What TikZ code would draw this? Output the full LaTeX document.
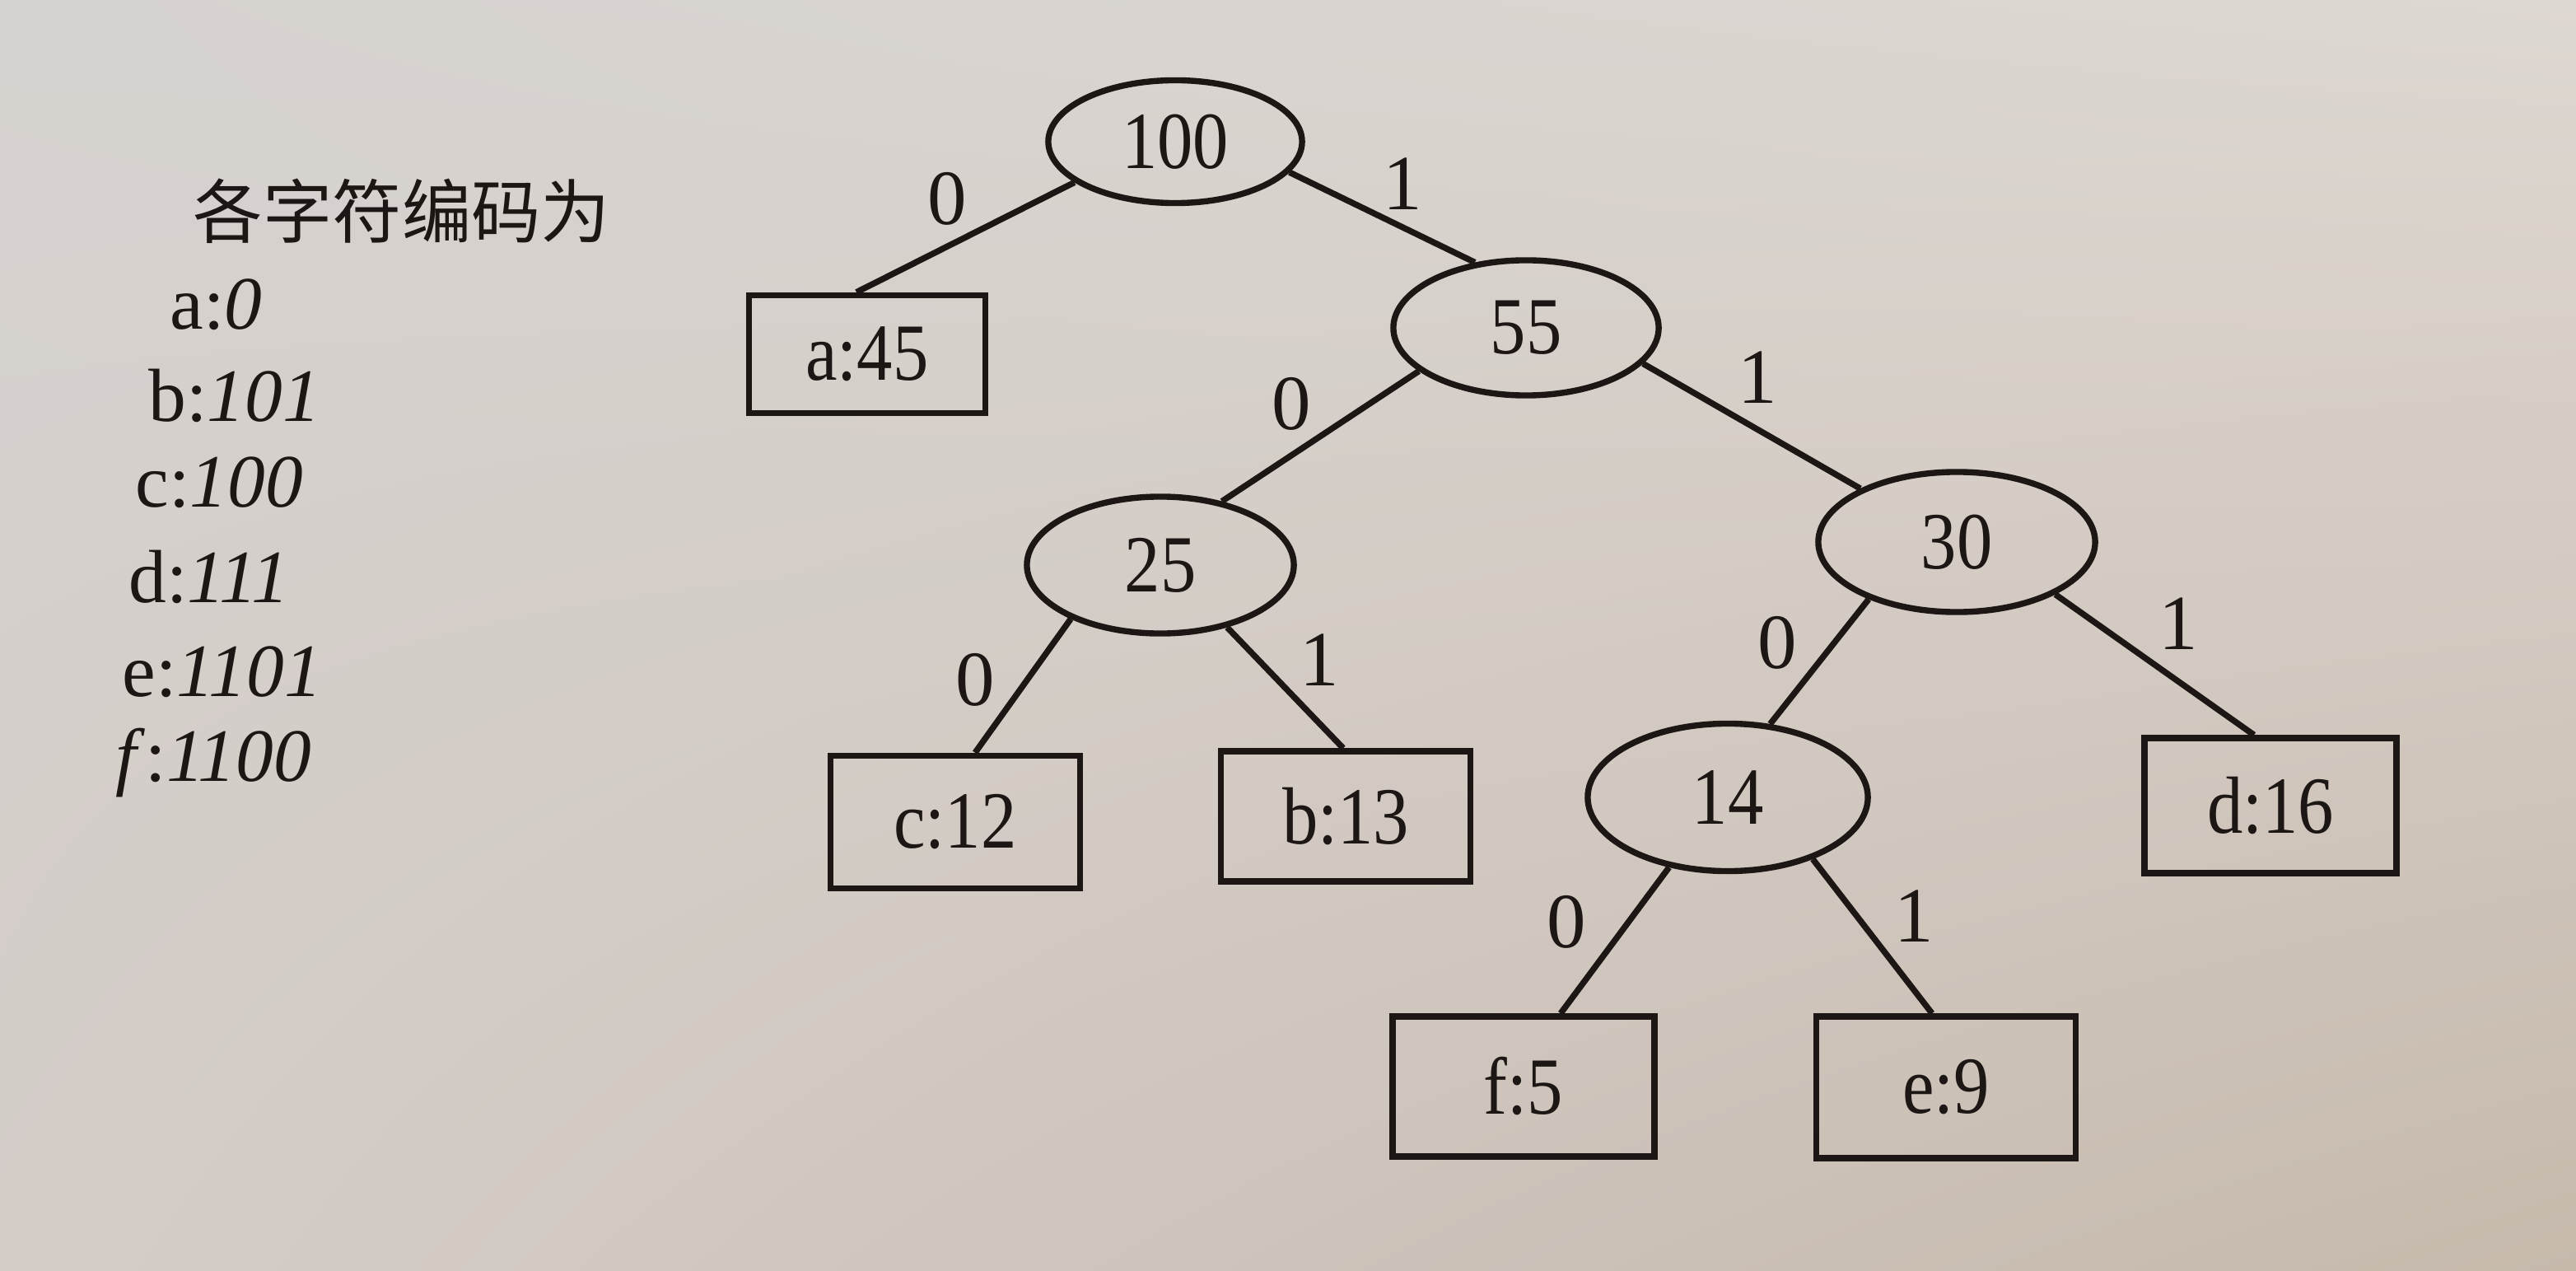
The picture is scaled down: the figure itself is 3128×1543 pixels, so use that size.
\documentclass[tikz,border=0pt]{standalone}
\usepackage{fontspec}
\setmainfont{Liberation Serif}
\newfontfamily\treefont[FakeStretch=0.88]{Liberation Serif}
\newfontfamily\cjk{Noto Sans CJK SC}
\usetikzlibrary{shapes.geometric,shadings}
\definecolor{ink}{RGB}{28,22,20}
\definecolor{pUL}{RGB}{214,210,207}
\definecolor{pUR}{RGB}{222,216,210}
\definecolor{pLL}{RGB}{212,205,200}
\definecolor{pLR}{RGB}{198,185,172}
\begin{document}
\begin{tikzpicture}[x=0.01cm,y=-0.01cm,
  inner/.style={ellipse,draw=ink,line width=2.1pt,inner sep=0pt,font=\treefont\fontsize{28}{30}\selectfont,text=ink},
  leaf/.style={rectangle,draw=ink,line width=2.1pt,inner sep=0pt,font=\treefont\fontsize{28}{30}\selectfont,text=ink},
  edge/.style={draw=ink,line width=2.1pt},
  bit/.style={font=\fontsize{27}{30}\selectfont,text=ink,inner sep=0pt},
  code/.style={font=\fontsize{26}{30}\selectfont,text=ink,anchor=west,inner sep=0pt}]
\shade[shading=bilinear interpolation,upper left=pUL,upper right=pUR,lower left=pLL,lower right=pLR] (0,0) rectangle (3128,1543);
\useasboundingbox (0,0) rectangle (3128,1543);
% internal nodes
\node[inner,minimum width=3.08cm,minimum height=1.49cm] (n100) at (1427,172) {100};
\node[inner,minimum width=3.22cm,minimum height=1.64cm] (n55) at (1853,398) {55};
\node[inner,minimum width=3.24cm,minimum height=1.66cm] (n25) at (1409,686) {25};
\node[inner,minimum width=3.36cm,minimum height=1.70cm] (n30) at (2376,658) {30};
\node[inner,minimum width=3.40cm,minimum height=1.79cm] (n14) at (2098,968) {14};
% leaves
\node[leaf,minimum width=2.87cm,minimum height=1.43cm] (a45) at (1053,430) {a:45};
\node[leaf,minimum width=3.03cm,minimum height=1.61cm] (c12) at (1160,998) {c:12};
\node[leaf,minimum width=3.03cm,minimum height=1.58cm] (b13) at (1634,991) {b:13};
\node[leaf,minimum width=3.06cm,minimum height=1.64cm] (d16) at (2757,978) {d:16};
\node[leaf,minimum width=3.18cm,minimum height=1.70cm] (f5) at (1850,1319) {f:5};
\node[leaf,minimum width=3.15cm,minimum height=1.72cm] (e9) at (2363,1320) {e:9};
% edges
\draw[edge] (n100.202) -- ([xshift=-0.13cm]a45.north);
\draw[edge] (n100.345) -- (n55.128);
\draw[edge] (n55.202) -- (n25.46);
\draw[edge] (n55.343) -- (n30.151);
\draw[edge] (n25.211) -- ([xshift=0.24cm]c12.north);
\draw[edge] (n25.317) -- ([xshift=-0.03cm]b13.north);
\draw[edge] (n30.213) -- (n14.60);
\draw[edge] (n30.332) -- ([xshift=-0.20cm]d16.north);
\draw[edge] (n14.230) -- ([xshift=0.45cm]f5.north);
\draw[edge] (n14.324) -- ([xshift=-0.17cm]e9.north);
% edge labels
\node[bit] (l1) at (1150,241) {0};
\node[bit] (l2) at (1703,223) {1};
\node[bit] (l3) at (1568,490) {0};
\node[bit] (l4) at (2134,458) {1};
\node[bit] (l5) at (1184,825) {0};
\node[bit] (l6) at (1602,801) {1};
\node[bit] (l7) at (2158,780) {0};
\node[bit] (l8) at (2645,757) {1};
\node[bit] (l9) at (1902,1119) {0};
\node[bit] (l10) at (2324,1112) {1};
% codes
\node[font=\cjk\fontsize{24}{28}\selectfont,text=ink,inner sep=0pt] (title) at (488,256) {各字符编码为};
\node[code] (ca) at (206,370) {a:\textit{0}};
\node[code] (cb) at (180,480) {b:\textit{101}};
\node[code] (cc) at (164,586) {c:\textit{100}};
\node[code] (cd) at (156,700) {d:\textit{111}};
\node[code] (ce) at (148,816) {e:\textit{1101}};
\node[code] (cf) at (140,926) {\textit{f}:\textit{1100}};
\end{tikzpicture}
\end{document}
